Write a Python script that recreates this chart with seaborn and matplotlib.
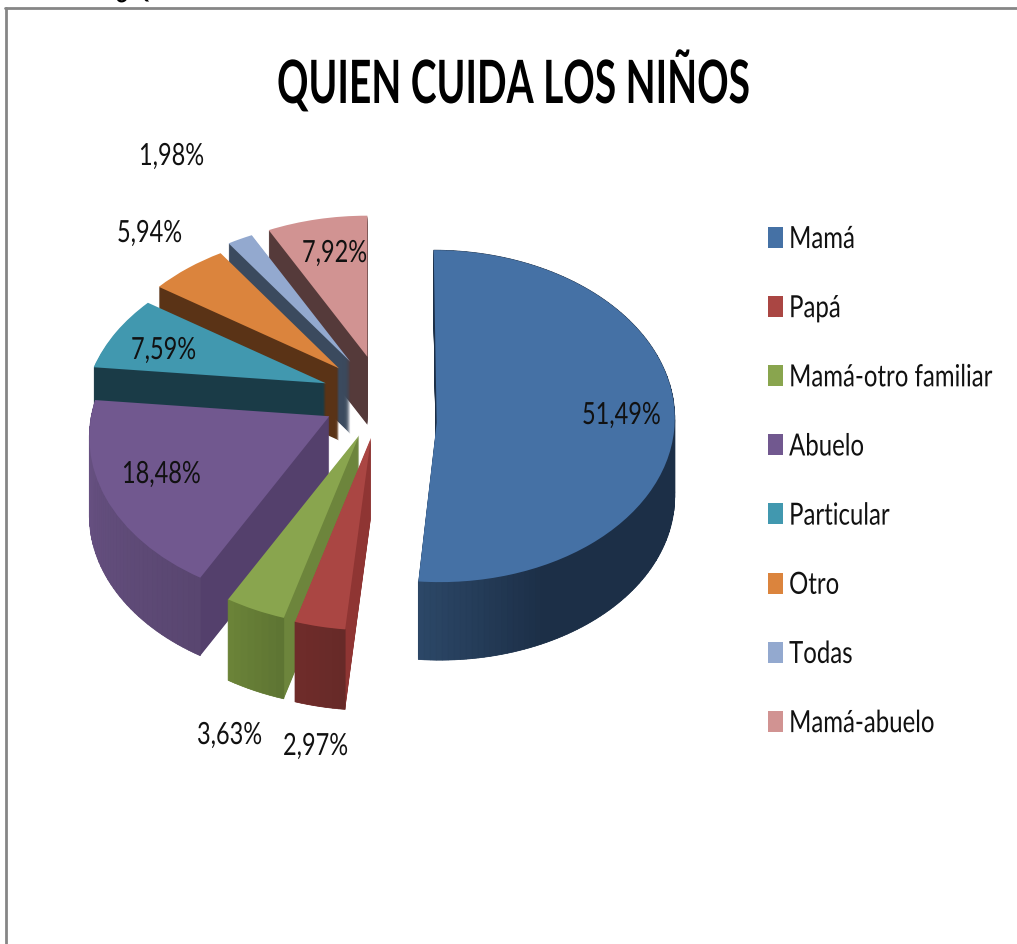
#!/usr/bin/env python3
"""
plot.py - exploded pseudo 3D pie: QUIEN CUIDA LOS NIÑOS
"""

import numpy as np
import seaborn as sns
import matplotlib
matplotlib.use("Agg")
import matplotlib.pyplot as plt
from matplotlib.lines import Line2D
from matplotlib.patches import Patch, Polygon, Wedge
from matplotlib.patheffects import AbstractPathEffect
from matplotlib.transforms import Affine2D, Transform

# ── Data ─────────────────────────────────────────────────────────────
categories = ["Mamá", "Papá", "Mamá-otro familiar", "Abuelo",
              "Particular", "Otro", "Todas", "Mamá-abuelo"]
shares = [51.49, 2.97, 3.63, 18.48, 7.59, 5.94, 1.98, 7.92]
title_text = "QUIEN CUIDA LOS NIÑOS"
caption_text = "Gráfica. ¿Quién cuida a los niños?"

# ── Style ────────────────────────────────────────────────────────────
top_colors = ["#4571A5", "#AA4643", "#89A54E", "#71588F",
              "#4198AF", "#DB843D", "#93A9CF", "#D19392"]
wall_colors = ["#1C2F47", "#8F3533", "#6D853C", "#54406C",
               "#1A3B47", "#5A3316", "#3B4A5E", "#553A3A"]
rim_colors = {0: ["#2C4767", "#1C2F47", "#1C2F47", "#1C2F47", "#1C2F47", "#1C2F47", "#1C2F47"],
              1: ["#6F2C2A", "#672A28"],
              2: ["#6B8338", "#5E7533"],
              3: ["#6B5487", "#594670"]}
explode = [0.23, 0.25, 0.25, 0.25, 0.25, 0.25, 0.25, 0.25]
persp = [-0.04, 0.16, 0.15, 0.13, 0.20, 0.18, 0.15, 0.15]
skew = [0.0126, 0, 0, 0, 0, 0, 0, 0]
depth_px = [78, 80, 81, 78, 72, 72, 72, 68]
nudge_px = [24, 0, 0, 0, 0, 0, 0, 0]
paint_order = [7, 6, 5, 4, 3, 2, 1, 0]   # back to front
label_pos = [(582, 415), (283, 746), (197, 735), (122, 474),
             (131, 350), (117, 233), (139, 156), (302, 253)]

WIDTH, HEIGHT = 1017, 944
CX, CY = 382, 397    # pie centre in pixels
RX, RY = 238, 166    # pixels for radius 1 in x and y


class Squeeze(AbstractPathEffect):
    """Narrows the glyphs, the source image was stretched."""
    def __init__(self, sx):
        self.sx = sx

    def draw_path(self, renderer, gc, tpath, affine, rgbFace=None):
        renderer.draw_path(gc, tpath, Affine2D().scale(self.sx, 1) + affine, rgbFace)


def warp(values, center, k, sh):
    # front of a wedge gets bigger, back gets smaller
    values = np.asarray(values, float)
    rel = values - center
    out = rel * (1 - k * rel[:, 1])[:, None]
    out[:, 0] -= sh * rel[:, 1]
    return center + out


class Perspective(Transform):
    input_dims = 2
    output_dims = 2

    def __init__(self, center, k, sh):
        super().__init__()
        self.center = np.asarray(center, float)
        self.k = k
        self.sh = sh

    def transform_non_affine(self, values):
        return warp(values, self.center, self.k, self.sh)


def arc_points(center, radius, t1, t2, k, sh):
    th = np.radians(np.linspace(t1, t2, 5))
    pts = np.column_stack([center[0] + radius * np.cos(th), center[1] + radius * np.sin(th)])
    return warp(pts, np.asarray(center, float), k, sh)


def fx(x):
    return x / WIDTH


def fy(y):
    return 1 - y / HEIGHT


sns.set_theme(style="white")
plt.rcParams["font.family"] = ["Lato", "DejaVu Sans"]

fig = plt.figure(figsize=(WIDTH / 100, HEIGHT / 100), dpi=100, facecolor="white")
ax = fig.add_axes([0, 0, 1, 1])

wedges, _ = ax.pie(shares, explode=explode, colors=top_colors, startangle=90,
                   counterclock=False, radius=1, center=(0, 0))
ax.set_aspect("auto")
ax.set_xlim(-CX / RX, (WIDTH - CX) / RX)
ax.set_ylim((CY - HEIGHT) / RY, CY / RY)
ax.axis("off")

for rank, i in enumerate(paint_order):
    w = wedges[i]
    cx, cy = w.center
    cy -= nudge_px[i] / RY
    k, sh = persp[i], skew[i]
    base = 10 * (rank + 1)
    w.set_center((cx, cy))
    w.set_transform(Perspective((cx, cy), k, sh) + ax.transData)
    w.set_zorder(base + 2)
    w.set_edgecolor("none")

    # side walls: the same wedge stacked downwards
    for z in np.arange(depth_px[i], 0, -1):
        c = (cx, cy - z / RY)
        ax.add_patch(Wedge(c, w.r, w.theta1, w.theta2, facecolor=wall_colors[i], edgecolor="none",
                           transform=Perspective(c, k, sh) + ax.transData, zorder=base))

    # outer wall of the front wedges, shaded in thin strips
    if i in rim_colors:
        n_seg = max(8, int((w.theta2 - w.theta1) / 1.5))
        seg_edges = np.linspace(w.theta1, w.theta2, n_seg + 1)
        seg_cols = sns.blend_palette(rim_colors[i], n_seg)
        low = (cx, cy - depth_px[i] / RY)
        for t1, t2, col in zip(seg_edges[:-1], seg_edges[1:], seg_cols):
            upper = arc_points((cx, cy), w.r, t1, t2, k, sh)
            lower = arc_points(low, w.r, t1, t2, k, sh)
            ax.add_patch(Polygon(np.vstack([upper, lower[::-1]]), closed=True, facecolor=col,
                                 edgecolor=col, lw=0.5, zorder=base + 1))

# ── Text ─────────────────────────────────────────────────────────────
fig.text(fx(277), fy(103), title_text, fontsize=43, fontweight="bold", color="black",
         ha="left", va="baseline", path_effects=[Squeeze(0.652)])
fig.text(fx(15), fy(-3), caption_text, fontsize=22, color="black", ha="left", va="baseline",
         path_effects=[Squeeze(0.9)])

for value, (x, y) in zip(shares, label_pos):
    label = f"{value:.2f}%".replace(".", ",")
    t = fig.text(fx(x), fy(y), label, fontsize=22, color="#111111", ha="left", va="center",
                 path_effects=[Squeeze(0.77)])
    t.set_zorder(200)

# ── Legend ───────────────────────────────────────────────────────────
handles = [Patch(facecolor=c, edgecolor="none") for c in top_colors]
leg = fig.legend(handles, categories, loc="upper left", bbox_to_anchor=(fx(768), fy(225)),
                 frameon=False, fontsize=22, borderpad=0, borderaxespad=0,
                 handlelength=0.49, handleheight=0.68, handletextpad=0.2, labelspacing=1.347)
for t in leg.get_texts():
    t.set_path_effects([Squeeze(0.785)])
    t.set_color("#111111")

# ── Frame of the pasted picture ──────────────────────────────────────
fig.add_artist(Line2D([fx(6), fx(6)], [0, fy(8)], color="#868686", lw=2))
fig.add_artist(Line2D([fx(5), 1], [fy(8), fy(8)], color="#868686", lw=2))

fig.savefig("out.png", dpi=100)
plt.close(fig)
